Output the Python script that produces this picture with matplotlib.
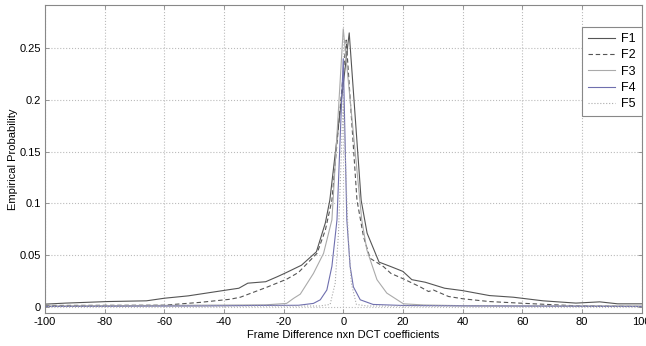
import matplotlib
matplotlib.use('Agg')
import matplotlib.pyplot as plt

plt.rcParams['font.family'] = ['Liberation Sans', 'DejaVu Sans']
plt.rcParams['axes.unicode_minus'] = False

# knots (x = coefficient value, y = probability)
f1_x = [-100, -93, -79, -66, -60, -52, -39, -35, -32, -26, -22, -19, -14, -9, -6, -4.5,
        2, 6, 8, 12, 16, 20, 23, 27.5, 34, 40, 49, 57, 67, 78, 86, 92, 100]
f1_y = [0.0023, 0.0033, 0.0048, 0.0055, 0.008, 0.0103, 0.016, 0.0177, 0.0226, 0.024, 0.029,
        0.033, 0.040, 0.053, 0.081, 0.103, 0.265, 0.103, 0.071, 0.043, 0.0386, 0.034, 0.026,
        0.0235, 0.0177, 0.0154, 0.0106, 0.009, 0.0055, 0.0033, 0.0045, 0.0026, 0.0026]

f2_x = [-100, -60, -48, -38, -34.5, -25.6, -19, -15, -8.8, -6, -3.8, 1, 4.6, 6.8, 9, 13.5,
        16, 20, 25.8, 28.6, 30.2, 35.3, 40.3, 49, 59, 64, 78, 100]
f2_y = [0.001, 0.0013, 0.004, 0.007, 0.009, 0.0187, 0.0264, 0.033, 0.0515, 0.074, 0.103,
        0.258, 0.103, 0.0676, 0.0467, 0.0386, 0.032, 0.027, 0.019, 0.0145, 0.016, 0.0097,
        0.0074, 0.0048, 0.0033, 0.0026, 0.0007, 0.0]

f3_x = [-100, -26, -19, -16.6, -14.4, -10, -6.6, -3.8, 0, 6.2, 7.9, 11.3, 14.6, 19, 20.2, 27, 40, 100]
f3_y = [0.0005, 0.0016, 0.003, 0.008, 0.012, 0.032, 0.0515, 0.084, 0.269, 0.084, 0.055,
        0.026, 0.013, 0.0048, 0.0026, 0.0015, 0.0008, 0.0005]

f4_x = [-100, -47, -30, -15, -10, -7.7, -5.5, -3.8, -2.1, 0, 1.2, 2.3, 3.4, 5.7, 10, 20, 43, 100]
f4_y = [0.0, 0.0005, 0.001, 0.0012, 0.003, 0.0065, 0.016, 0.039, 0.084, 0.24, 0.084, 0.039,
        0.019, 0.0065, 0.002, 0.001, 0.0005, 0.0]

f5_x = [-100, -8, -4.4, -2.7, -1.6, 0, 1.6, 2.7, 4.4, 8, 100]
f5_y = [0.0, 0.0005, 0.002, 0.0226, 0.071, 0.2, 0.071, 0.0226, 0.002, 0.0005, 0.0]

xticks = list(range(-100, 101, 20))
yticks = [0, 0.05, 0.1, 0.15, 0.2, 0.25]
ytick_labels = ['0', '0.05', '0.1', '0.15', '0.2', '0.25']

fig = plt.figure(figsize=(6.46, 3.46), dpi=100)
ax = fig.add_axes([45/646, 1-312.7/346, (641.5-45)/646, (312.7-5)/346])

ax.plot(f1_x, f1_y, '-', color='#555555', lw=0.8, label='F1')
ax.plot(f2_x, f2_y, '--', color='#555555', lw=0.8, label='F2', dashes=(4, 2.5))
ax.plot(f3_x, f3_y, '-', color='#aaaaaa', lw=0.8, label='F3')
ax.plot(f4_x, f4_y, '-', color='#6f6fae', lw=0.8, label='F4')
ax.plot(f5_x, f5_y, ':', color='#aaaaaa', lw=0.8, label='F5')

ax.set_xlim(-100, 100)
ax.set_ylim(-0.006, 0.292)
ax.set_xticks(xticks)
ax.set_yticks(yticks)
ax.set_yticklabels(ytick_labels)
ax.grid(True, linestyle=':', color='#bbbbbb', lw=0.8)
for s in ax.spines.values():
    s.set_color('#888888')
    s.set_linewidth(0.8)
ax.tick_params(direction='in', length=3, width=0.6, color='#888888', labelsize=8,
               top=True, right=True, pad=3)

ax.set_xlabel('Frame Difference nxn DCT coefficients', fontsize=8, labelpad=2)
ax.set_ylabel('Empirical Probability', fontsize=8)
ax.yaxis.set_label_coords(-0.045, 0.5)

leg = ax.legend(loc='upper right', bbox_to_anchor=(641.5/646, 1-27.3/346),
                bbox_transform=fig.transFigure, borderaxespad=0, fancybox=False,
                fontsize=9, handlelength=2.2, labelspacing=0.35, borderpad=0.45,
                handletextpad=0.5, framealpha=1)
leg.get_frame().set_edgecolor('#888888')
leg.get_frame().set_linewidth(0.8)

fig.savefig('out.png', dpi=100)
